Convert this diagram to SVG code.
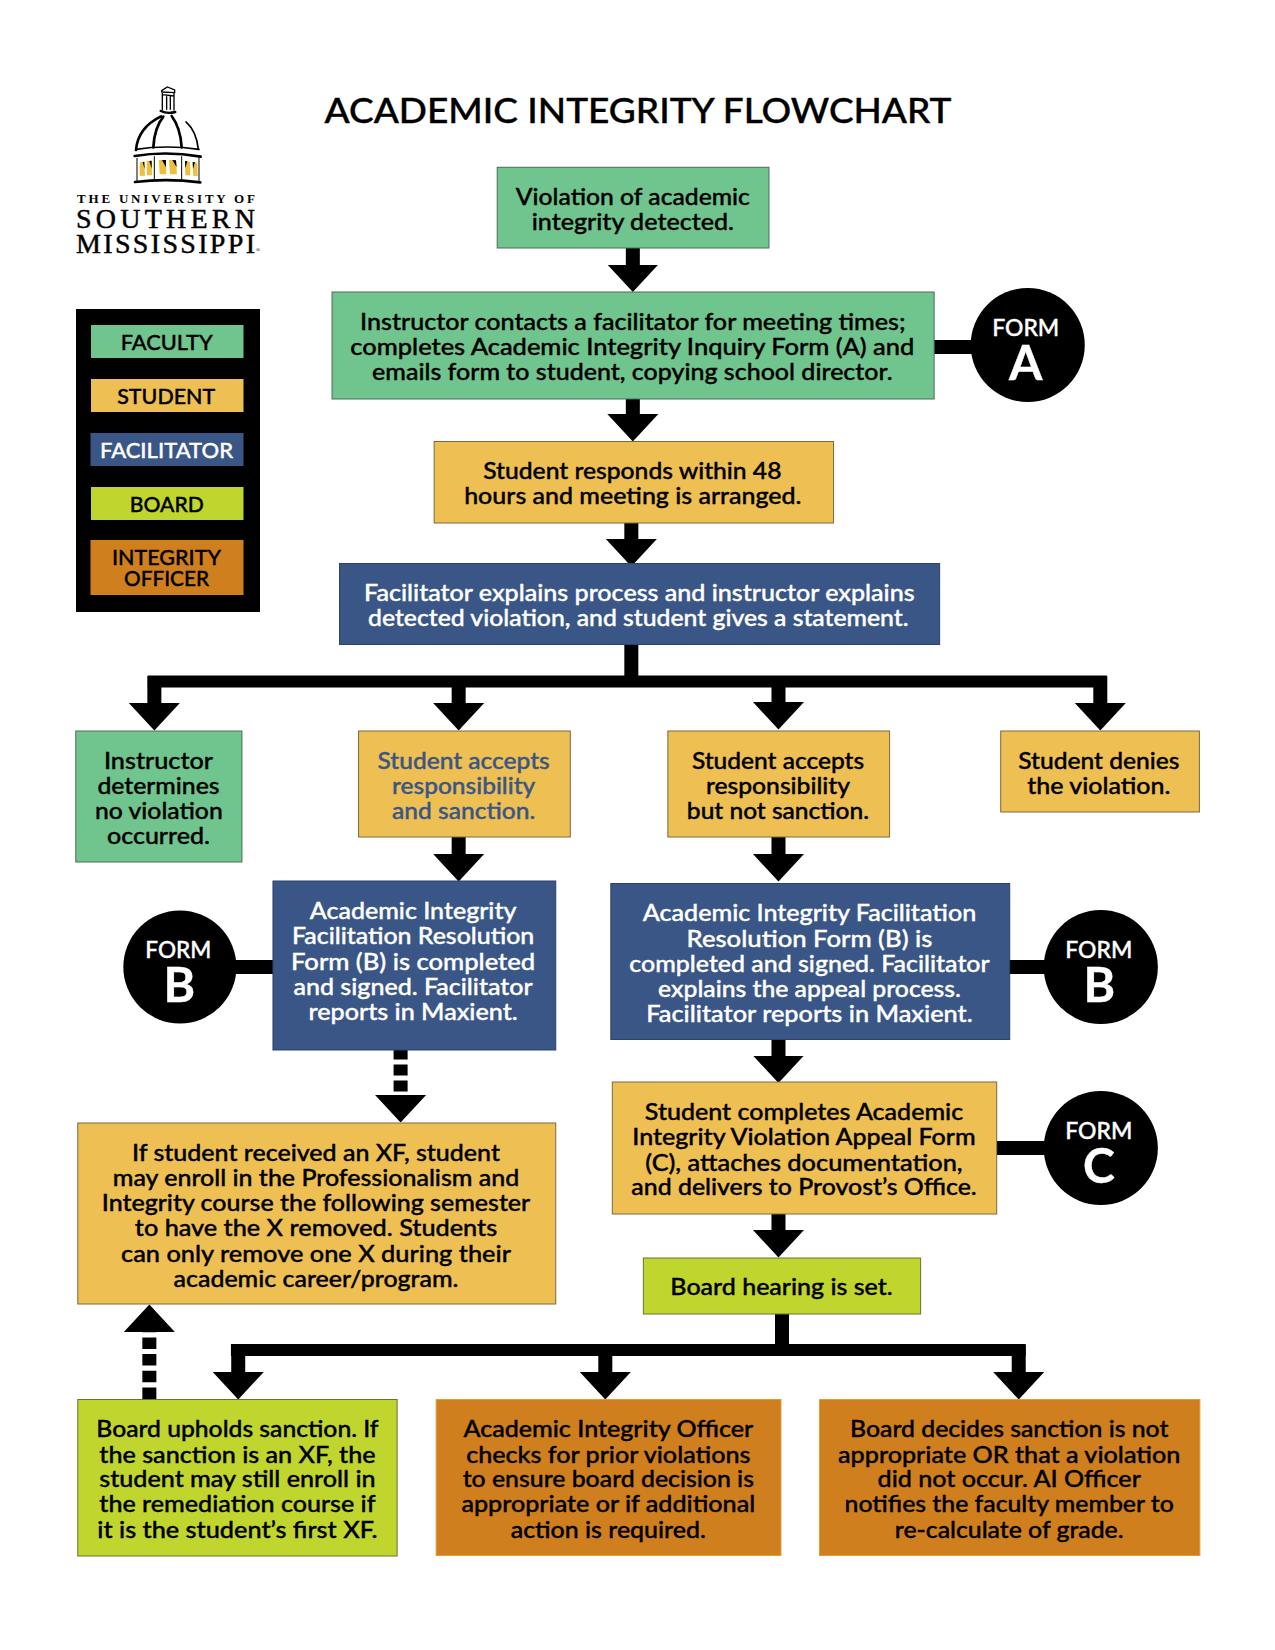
<svg xmlns="http://www.w3.org/2000/svg" width="1275" height="1650" viewBox="0 0 1275 1650">
<style>
text{font-family:Lato,"Liberation Sans",sans-serif;font-size:23.5px;font-weight:500;text-anchor:middle;fill:#000;stroke:#000;stroke-width:.4px;transform:translateY(.2px)}
.w text,text.w{fill:#fff;stroke:#fff}
.bt text{fill:#3A5686;stroke:#3A5686}
.g{fill:#70C58E;stroke:#4A6E58;stroke-width:1}
.y{fill:#EEBF52;stroke:#7A6A40;stroke-width:1}
.b{fill:#3A5686;stroke:#2C4268;stroke-width:1}
.l{fill:#C1D52F;stroke:#6A7033;stroke-width:1}
.o{fill:#CF7F1E;stroke:#E39A3A;stroke-width:1}
.leg{font-size:22px}
.fm{font-size:23px}
.big{font-size:48px;font-weight:700}
.cn{fill:none;stroke:#000;stroke-width:14}
.ar{marker-end:url(#head)}
.logo{font-family:"Liberation Serif",serif;font-weight:400;stroke-width:.45px}
.dome{fill:none;stroke:#000;stroke-linecap:round}
.gold{fill:#EEBF3C}
</style>
<defs>
<marker id="head" markerUnits="userSpaceOnUse" markerWidth="28" markerHeight="52" viewBox="0 0 28 52" refX="1" refY="26" orient="auto"><path d="M0 0.5L27.5 26L0 51.5z" fill="#000"/></marker>
</defs>

<g id="title"><text x="638" y="122.500" style="font-size:35px" textLength="627" lengthAdjust="spacingAndGlyphs">ACADEMIC INTEGRITY FLOWCHART</text></g>

<g id="logo">
<g transform="translate(50 60) scale(.3333)">
<path class="gold" d="M269 307L283 305L285 348L269 347zM290 303L305 302L306 346L291 346zM327 300L348 300L349 343L329 343zM357 300L378 301L381 343L360 343zM405 303L420 305L421 346L406 346zM428 306L442 308L443 349L430 348z"/>
<path fill="#000" d="M278 307L283 305L284 328zM298 303L305 302L305 326zM336 300L348 300L348 322zM367 300L378 301L380 322zM405 303L412 304L406 325zM428 306L435 307L429 328z"/>
<path class="dome" stroke-width="4" d="M335 92L352 81L374 90L374 98L335 96M337 98V150M350 110V148M361 110V148M372 100V150M338 104L372 108"/>
<path class="dome" stroke-width="7" d="M332 153Q352 162 376 156"/>
<path class="dome" stroke-width="8" d="M258 270C262 222 290 190 333 169M310 262C312 225 320 195 340 170M395 262C393 225 385 195 365 168"/>
<path class="dome" stroke-width="5" d="M445 268C441 230 427 203 408 186"/>
<path class="dome" stroke-width="5" d="M258 268Q350 254 447 268"/>
<path class="dome" stroke-width="8" d="M254 288Q350 272 452 290"/>
<path class="dome" stroke-width="3" d="M261 295V362M313 290V358M395 290V358M447 295V362"/>
<path class="dome" stroke-width="8" d="M255 366Q350 354 451 367"/>
</g>
<text class="logo" x="166" y="202.500" style="font-size:13px;font-weight:700;stroke-width:0" textLength="178" lengthAdjust="spacing">THE UNIVERSITY OF</text>
<text class="logo" x="165.500" y="228" style="font-size:28px" textLength="179" lengthAdjust="spacing">SOUTHERN</text>
<text class="logo" x="165.500" y="253" style="font-size:28px" textLength="179" lengthAdjust="spacing">MISSISSIPPI</text>
<text class="logo" x="258" y="252" style="font-size:6px;stroke-width:0">®</text>
</g>

<g id="legend">
<rect x="76" y="309" width="184" height="303" fill="#000"/>
<rect class="g" x="91" y="325" width="152.500" height="33" style="stroke:none"/>
<rect class="y" x="91" y="379" width="152.500" height="33" style="stroke:none"/>
<rect class="b" x="90.500" y="433" width="153" height="33" style="stroke:none"/>
<rect class="l" x="91" y="487" width="152.500" height="33" style="stroke:none"/>
<rect class="o" x="90.500" y="540" width="153" height="55" style="stroke:none"/>
<text class="leg" x="166.700" y="350" textLength="92" lengthAdjust="spacingAndGlyphs">FACULTY</text>
<text class="leg" x="166.200" y="403.700" textLength="98" lengthAdjust="spacingAndGlyphs">STUDENT</text>
<text class="leg w" x="166.500" y="457.700" textLength="133" lengthAdjust="spacingAndGlyphs">FACILITATOR</text>
<text class="leg" x="166.800" y="511.700" textLength="74" lengthAdjust="spacingAndGlyphs">BOARD</text>
<text class="leg" x="166.500" y="565" textLength="109" lengthAdjust="spacingAndGlyphs">INTEGRITY</text>
<text class="leg" x="166.500" y="585.700" textLength="85" lengthAdjust="spacingAndGlyphs">OFFICER</text>
</g>

<g id="flow" transform="matrix(1.001 0 0 1 -.3 0)">
<g id="connectors">
<path class="cn ar" d="M632.500 248V265.500"/>
<path class="cn ar" d="M632.500 399V415"/>
<path class="cn ar" d="M631 523V540"/>
<path class="cn" d="M631 645V681"/>
<path class="cn" style="stroke-width:12" d="M148 681.500H1106"/>
<path class="cn ar" d="M154.500 676V704"/>
<path class="cn ar" d="M458.500 681V704"/>
<path class="cn ar" d="M778 681V703"/>
<path class="cn ar" d="M1099.500 676V704"/>
<path class="cn ar" d="M458.500 837V855"/>
<path class="cn ar" d="M778 837V855"/>
<path class="cn ar" d="M778 1040V1056.500"/>
<path class="cn ar" d="M778 1214V1231"/>
<path class="cn" d="M781.500 1314V1350"/>
<path class="cn" style="stroke-width:12" d="M231 1350H1025"/>
<path class="cn ar" d="M238.300 1345V1373"/>
<path class="cn ar" d="M605 1350V1373"/>
<path class="cn ar" d="M1018 1345V1373"/>
<path class="cn ar" style="stroke-dasharray:11 5" d="M400.500 1048.500V1096"/>
<path class="cn ar" style="stroke-dasharray:11.500 5.200" d="M149.500 1399V1331"/>
<path class="cn" d="M933 347H972"/>
<path class="cn" d="M236 967H273"/>
<path class="cn" d="M1007 967H1045"/>
<path class="cn" d="M996 1148H1045"/>
</g>

<g id="n1"><rect class="g" x="497" y="167.300" width="271.500" height="80.700"/><text x="632.500" y="204.500" textLength="234" lengthAdjust="spacingAndGlyphs">Violation of academic</text><text x="632.500" y="229.500" textLength="202" lengthAdjust="spacingAndGlyphs">integrity detected.</text></g>

<g id="n2"><rect class="g" x="332" y="292" width="601.500" height="107"/><text x="632.500" y="330" textLength="545" lengthAdjust="spacingAndGlyphs">Instructor contacts a facilitator for meeting times;</text><text x="632" y="355" textLength="563.500" lengthAdjust="spacingAndGlyphs">completes Academic Integrity Inquiry Form (A) and</text><text x="632" y="380" textLength="520" lengthAdjust="spacingAndGlyphs">emails form to student, copying school director.</text></g>

<g id="formA" class="w"><circle cx="1027" cy="345" r="57"/><text class="fm" x="1025" y="336" textLength="67" lengthAdjust="spacingAndGlyphs">FORM</text><text class="big" x="1025" y="380">A</text></g>

<g id="n3"><rect class="y" x="434" y="441.500" width="399" height="81.500"/><text x="632" y="479" textLength="298" lengthAdjust="spacingAndGlyphs">Student responds within 48</text><text x="632.500" y="504" textLength="337" lengthAdjust="spacingAndGlyphs">hours and meeting is arranged.</text></g>

<g id="n4" class="w"><rect class="b" x="339.500" y="563.500" width="599.500" height="81"/><text x="639" y="601" textLength="550" lengthAdjust="spacingAndGlyphs">Facilitator explains process and instructor explains</text><text x="638" y="626" textLength="540" lengthAdjust="spacingAndGlyphs">detected violation, and student gives a statement.</text></g>

<g id="n5"><rect class="g" x="76" y="731" width="166" height="131"/><text x="158.600" y="768.600" textLength="109" lengthAdjust="spacingAndGlyphs">Instructor</text><text x="158.600" y="793.500" textLength="122" lengthAdjust="spacingAndGlyphs">determines</text><text x="159" y="819" textLength="127.700" lengthAdjust="spacingAndGlyphs">no violation</text><text x="158.600" y="844" textLength="103" lengthAdjust="spacingAndGlyphs">occurred.</text></g>

<g id="n6" class="bt"><rect class="y" x="358.500" y="731" width="211.500" height="106"/><text x="463.500" y="768.600" textLength="172" lengthAdjust="spacingAndGlyphs">Student accepts</text><text x="463.500" y="793.500" textLength="143" lengthAdjust="spacingAndGlyphs">responsibility</text><text x="463.500" y="819" textLength="143" lengthAdjust="spacingAndGlyphs">and sanction.</text></g>

<g id="n7"><rect class="y" x="667.500" y="731" width="221.500" height="106"/><text x="777.500" y="768.600" textLength="172" lengthAdjust="spacingAndGlyphs">Student accepts</text><text x="777.500" y="793.500" textLength="144" lengthAdjust="spacingAndGlyphs">responsibility</text><text x="777.500" y="819" textLength="182" lengthAdjust="spacingAndGlyphs">but not sanction.</text></g>

<g id="n8"><rect class="y" x="1000" y="731" width="198.500" height="81"/><text x="1098" y="768.600" textLength="161" lengthAdjust="spacingAndGlyphs">Student denies</text><text x="1098" y="793.500" textLength="143" lengthAdjust="spacingAndGlyphs">the violation.</text></g>

<g id="n9" class="w"><rect class="b" x="273" y="881" width="282.500" height="169"/><text x="413" y="919" textLength="206.500" lengthAdjust="spacingAndGlyphs">Academic Integrity</text><text x="413" y="944" textLength="242" lengthAdjust="spacingAndGlyphs">Facilitation Resolution</text><text x="413" y="969.500" textLength="244" lengthAdjust="spacingAndGlyphs">Form (B) is completed</text><text x="413" y="994.500" textLength="239" lengthAdjust="spacingAndGlyphs">and signed. Facilitator</text><text x="413" y="1020" textLength="209" lengthAdjust="spacingAndGlyphs">reports in Maxient.</text></g>

<g id="formBL" class="w"><circle cx="180" cy="967" r="56.500"/><text class="fm" x="178.500" y="958" textLength="66" lengthAdjust="spacingAndGlyphs">FORM</text><text class="big" x="179.500" y="1002">B</text></g>

<g id="n10" class="w"><rect class="b" x="610.500" y="883.500" width="398.500" height="156"/><text x="809" y="921" textLength="333" lengthAdjust="spacingAndGlyphs">Academic Integrity Facilitation</text><text x="809" y="946.500" textLength="245.600" lengthAdjust="spacingAndGlyphs">Resolution Form (B) is</text><text x="809" y="971.500" textLength="360" lengthAdjust="spacingAndGlyphs">completed and signed. Facilitator</text><text x="809" y="996.500" textLength="302.500" lengthAdjust="spacingAndGlyphs">explains the appeal process.</text><text x="809" y="1022" textLength="326" lengthAdjust="spacingAndGlyphs">Facilitator reports in Maxient.</text></g>

<g id="formBR" class="w"><circle cx="1100" cy="967" r="57"/><text class="fm" x="1098" y="958" textLength="67" lengthAdjust="spacingAndGlyphs">FORM</text><text class="big" x="1098.500" y="1002">B</text></g>

<g id="n11"><rect class="y" x="78" y="1123" width="477.500" height="181"/><text x="316" y="1161" textLength="367.500" lengthAdjust="spacingAndGlyphs">If student received an XF, student</text><text x="316" y="1186" textLength="406" lengthAdjust="spacingAndGlyphs">may enroll in the Professionalism and</text><text x="316" y="1211" textLength="428" lengthAdjust="spacingAndGlyphs">Integrity course the following semester</text><text x="316" y="1236" textLength="362" lengthAdjust="spacingAndGlyphs">to have the X removed. Students</text><text x="316" y="1261.500" textLength="389.500" lengthAdjust="spacingAndGlyphs">can only remove one X during their</text><text x="316" y="1286.500" textLength="284.600" lengthAdjust="spacingAndGlyphs">academic career/program.</text></g>

<g id="n12"><rect class="y" x="612" y="1082" width="384" height="132"/><text x="803.500" y="1120" textLength="318" lengthAdjust="spacingAndGlyphs">Student completes Academic</text><text x="803.500" y="1145" textLength="343" lengthAdjust="spacingAndGlyphs">Integrity Violation Appeal Form</text><text x="803.500" y="1170.500" textLength="317" lengthAdjust="spacingAndGlyphs">(C), attaches documentation,</text><text x="803.500" y="1195" textLength="345" lengthAdjust="spacingAndGlyphs">and delivers to Provost’s Office.</text></g>

<g id="formC" class="w"><circle cx="1100" cy="1148" r="57"/><text class="fm" x="1098" y="1139" textLength="67" lengthAdjust="spacingAndGlyphs">FORM</text><text class="big" x="1098" y="1183">C</text></g>

<g id="n13"><rect class="l" x="643" y="1258" width="277" height="56"/><text x="781" y="1295" textLength="222" lengthAdjust="spacingAndGlyphs">Board hearing is set.</text></g>

<g id="n14"><rect class="l" x="78" y="1399.500" width="319" height="156.500"/><text x="237.500" y="1437" textLength="282" lengthAdjust="spacingAndGlyphs">Board upholds sanction. If</text><text x="237.500" y="1462.500" textLength="276" lengthAdjust="spacingAndGlyphs">the sanction is an XF, the</text><text x="237.500" y="1487" textLength="276" lengthAdjust="spacingAndGlyphs">student may still enroll in</text><text x="237.500" y="1512" textLength="276" lengthAdjust="spacingAndGlyphs">the remediation course if</text><text x="237.500" y="1538" textLength="280" lengthAdjust="spacingAndGlyphs">it is the student’s first XF.</text></g>

<g id="n15"><rect class="o" x="436" y="1399.500" width="344.500" height="156"/><text x="608" y="1437" textLength="289.500" lengthAdjust="spacingAndGlyphs">Academic Integrity Officer</text><text x="608" y="1462.500" textLength="284" lengthAdjust="spacingAndGlyphs">checks for prior violations</text><text x="608" y="1487" textLength="291" lengthAdjust="spacingAndGlyphs">to ensure board decision is</text><text x="608" y="1512" textLength="293.500" lengthAdjust="spacingAndGlyphs">appropriate or if additional</text><text x="608" y="1538" textLength="195" lengthAdjust="spacingAndGlyphs">action is required.</text></g>

<g id="n16"><rect class="o" x="819" y="1399.500" width="380" height="156"/><text x="1008.500" y="1437" textLength="318" lengthAdjust="spacingAndGlyphs">Board decides sanction is not</text><text x="1008.500" y="1462.500" textLength="342" lengthAdjust="spacingAndGlyphs">appropriate OR that a violation</text><text x="1008.500" y="1487" textLength="263" lengthAdjust="spacingAndGlyphs">did not occur. AI Officer</text><text x="1008.500" y="1512" textLength="329" lengthAdjust="spacingAndGlyphs">notifies the faculty member to</text><text x="1008.500" y="1538" textLength="228.500" lengthAdjust="spacingAndGlyphs">re-calculate of grade.</text></g>
</g>
</svg>
